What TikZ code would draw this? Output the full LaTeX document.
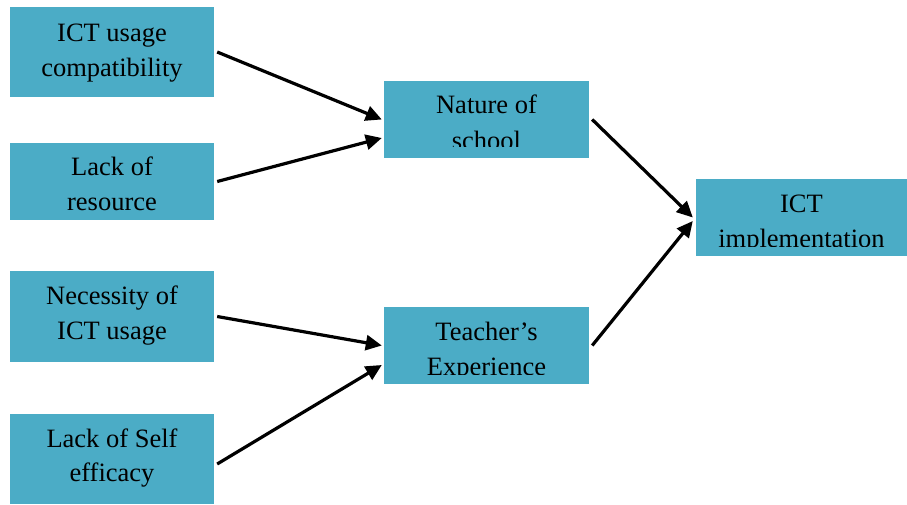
\documentclass[tikz,border=0pt]{standalone}
\usepackage{fontspec}
\setmainfont{Liberation Serif}
\usetikzlibrary{arrows.meta}
\definecolor{boxcol}{HTML}{4BACC6}
\tikzset{
  box/.style={fill=boxcol, inner sep=0pt, minimum width=204pt},
  txt/.style={inner sep=0pt, anchor=base, font=\fontsize{26.5}{35}\selectfont, text=black},
  conn/.style={line width=3.2pt, -{Triangle[length=16pt,width=15pt]}}
}
\begin{document}
\begin{tikzpicture}[x=1pt,y=-1pt]
\useasboundingbox (0,0) rectangle (907,504);
% boxes
\node[box, minimum height=90pt] (b1) at (112,52) {};
\node[box, minimum height=77pt] (b2) at (112,181.5) {};
\node[box, minimum height=91pt] (b3) at (112,316.5) {};
\node[box, minimum height=90pt] (b4) at (112,459) {};
\node[box, minimum width=205pt, minimum height=77pt] (b5) at (486.5,119.5) {};
\node[box, minimum width=205pt, minimum height=77pt] (b6) at (486.5,345.5) {};
\node[box, minimum width=211pt, minimum height=77pt] (b7) at (801.5,217.5) {};
% texts
\node[txt] (t1a) at ([yshift=-35pt]b1.north) {ICT usage};
\node[txt] (t1b) at ([yshift=-70pt]b1.north) {compatibility};
\node[txt] (t2a) at ([yshift=-33pt]b2.north) {Lack of};
\node[txt] (t2b) at ([yshift=-68pt]b2.north) {resource};
\node[txt] (t3a) at ([yshift=-34pt]b3.north) {Necessity of};
\node[txt] (t3b) at ([yshift=-69pt]b3.north) {ICT usage};
\node[txt] (t4a) at ([yshift=-34pt]b4.north) {Lack of Self};
\node[txt] (t4b) at ([yshift=-68pt]b4.north) {efficacy};
\begin{scope}
\clip (b5.north west) rectangle ([yshift=12pt]b5.south east);
\node[txt] (t5a) at ([yshift=-33pt]b5.north) {Nature of};
\node[txt] (t5b) at ([yshift=-69pt]b5.north) {school};
\end{scope}
\begin{scope}
\clip (b6.north west) rectangle ([yshift=10pt]b6.south east);
\node[txt] (t6a) at ([yshift=-34pt]b6.north) {Teacher’s};
\node[txt] (t6b) at ([yshift=-69pt]b6.north) {Experience};
\end{scope}
\begin{scope}
\clip (b7.north west) rectangle ([yshift=10pt]b7.south east);
\node[txt] (t7a) at ([yshift=-34pt]b7.north) {ICT};
\node[txt] (t7b) at ([yshift=-69pt]b7.north) {implementation};
\end{scope}
% connectors
\draw[conn] ([xshift=3pt]b1.east) -- ([xshift=-2pt]b5.west);
\draw[conn] ([xshift=3pt]b2.east) -- ([xshift=-2pt,yshift=-18.5pt]b5.west);
\draw[conn] ([xshift=3pt]b3.east) -- ([xshift=-2pt]b6.west);
\draw[conn] ([xshift=3pt,yshift=-5pt]b4.east) -- ([xshift=-2pt,yshift=-19.5pt]b6.west);
\draw[conn] ([xshift=3pt]b5.east) -- ([xshift=-3pt]b7.west);
\draw[conn] ([xshift=3pt]b6.east) -- ([xshift=-3pt,yshift=-3.5pt]b7.west);
\end{tikzpicture}
\end{document}
